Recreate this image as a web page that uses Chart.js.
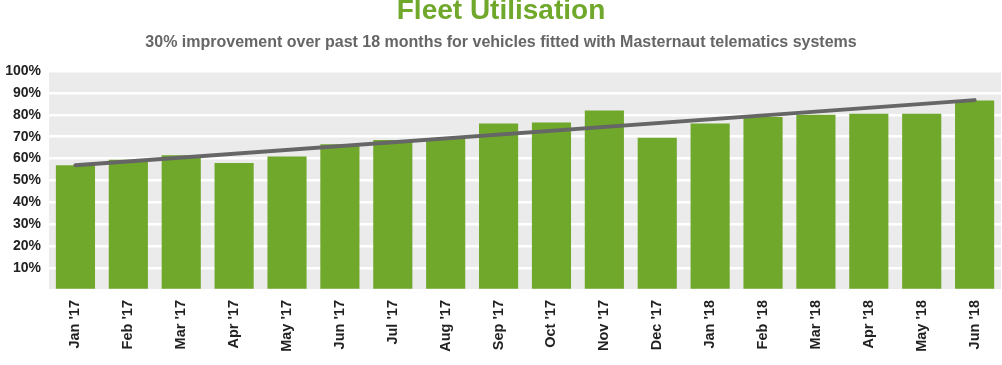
<!DOCTYPE html>
<html>
<head>
<meta charset="utf-8">
<script src="https://cdn.jsdelivr.net/npm/chart.js@4/dist/chart.umd.min.js"></script>
<style>
  html, body { margin: 0; padding: 0; background: #fff; }
  #wrap { width: 1002px; height: 365px; }
</style>
</head>
<body>
<div id="wrap"><canvas id="myChart"></canvas></div>
<script>
const months = ["Jan '17", "Feb '17", "Mar '17", "Apr '17", "May '17", "Jun '17", "Jul '17", "Aug '17", "Sep '17",
  "Oct '17", "Nov '17", "Dec '17", "Jan '18", "Feb '18", "Mar '18", "Apr '18", "May '18", "Jun '18"];
const utilisation = [57, 59.5, 61.5, 58, 61, 66.5, 68.5, 69, 76, 76.5, 82, 69.5, 76, 79, 80, 80.5, 80.5, 86.5];
const trend = [57, null, null, null, null, null, null, null, null, null, null, null, null, null, null, null, null, 86.7];
const yTicks = [10, 20, 30, 40, 50, 60, 70, 80, 90, 100];

const plotBg = {
  id: 'plotBg',
  beforeDraw(chart) {
    const { ctx, chartArea: a } = chart;
    ctx.save();
    ctx.fillStyle = '#ebebeb';
    ctx.fillRect(a.left, a.top, a.right - a.left, a.bottom - a.top);
    ctx.restore();
  }
};

const sans = "'Liberation Sans', Arial, sans-serif";

new Chart(document.getElementById('myChart'), {
  type: 'bar',
  data: {
    labels: months,
    datasets: [{
      label: 'Fleet utilisation',
      data: utilisation,
      backgroundColor: '#6fa82b',
      barPercentage: 0.74,
      categoryPercentage: 1,
      order: 1
    }, {
      type: 'line',
      label: 'Trend',
      data: trend,
      spanGaps: true,
      borderColor: '#666666',
      borderWidth: 4,
      borderCapStyle: 'round',
      pointRadius: 0,
      order: 0
    }]
  },
  options: {
    responsive: true,
    maintainAspectRatio: false,
    animation: false,
    layout: { padding: 0 },
    plugins: {
      legend: { display: false },
      tooltip: { enabled: false },
      title: {
        display: true,
        text: 'Fleet Utilisation',
        color: '#6fa82b',
        font: { family: sans, size: 28, weight: 'bold', lineHeight: 1 },
        padding: { top: -3, bottom: 10 }
      },
      subtitle: {
        display: true,
        text: '30% improvement over past 18 months for vehicles fitted with Masternaut telematics systems',
        color: '#666666',
        font: { family: sans, size: 16, weight: 'bold', lineHeight: 1 },
        padding: { top: 0, bottom: 20 }
      }
    },
    scales: {
      x: {
        grid: { display: false, drawTicks: false },
        border: { display: false },
        afterFit: s => { s.height = 75; },
        ticks: {
          color: '#222222',
          minRotation: 90,
          maxRotation: 90,
          padding: 10,
          font: { family: sans, size: 14.5, weight: 'bold' }
        }
      },
      y: {
        min: 0,
        max: 100,
        afterFit: s => { s.width = 49; },
        afterBuildTicks: s => { s.ticks = [0].concat(yTicks).map(v => ({ value: v })); },
        grid: { color: '#ffffff', lineWidth: 2.5, drawTicks: false },
        border: { display: false },
        ticks: {
          color: '#222222',
          padding: 8,
          font: { family: sans, size: 14, weight: 'bold' },
          callback: v => (yTicks.includes(v) ? v + '%' : '')
        }
      }
    }
  },
  plugins: [plotBg]
});
</script>
</body>
</html>
